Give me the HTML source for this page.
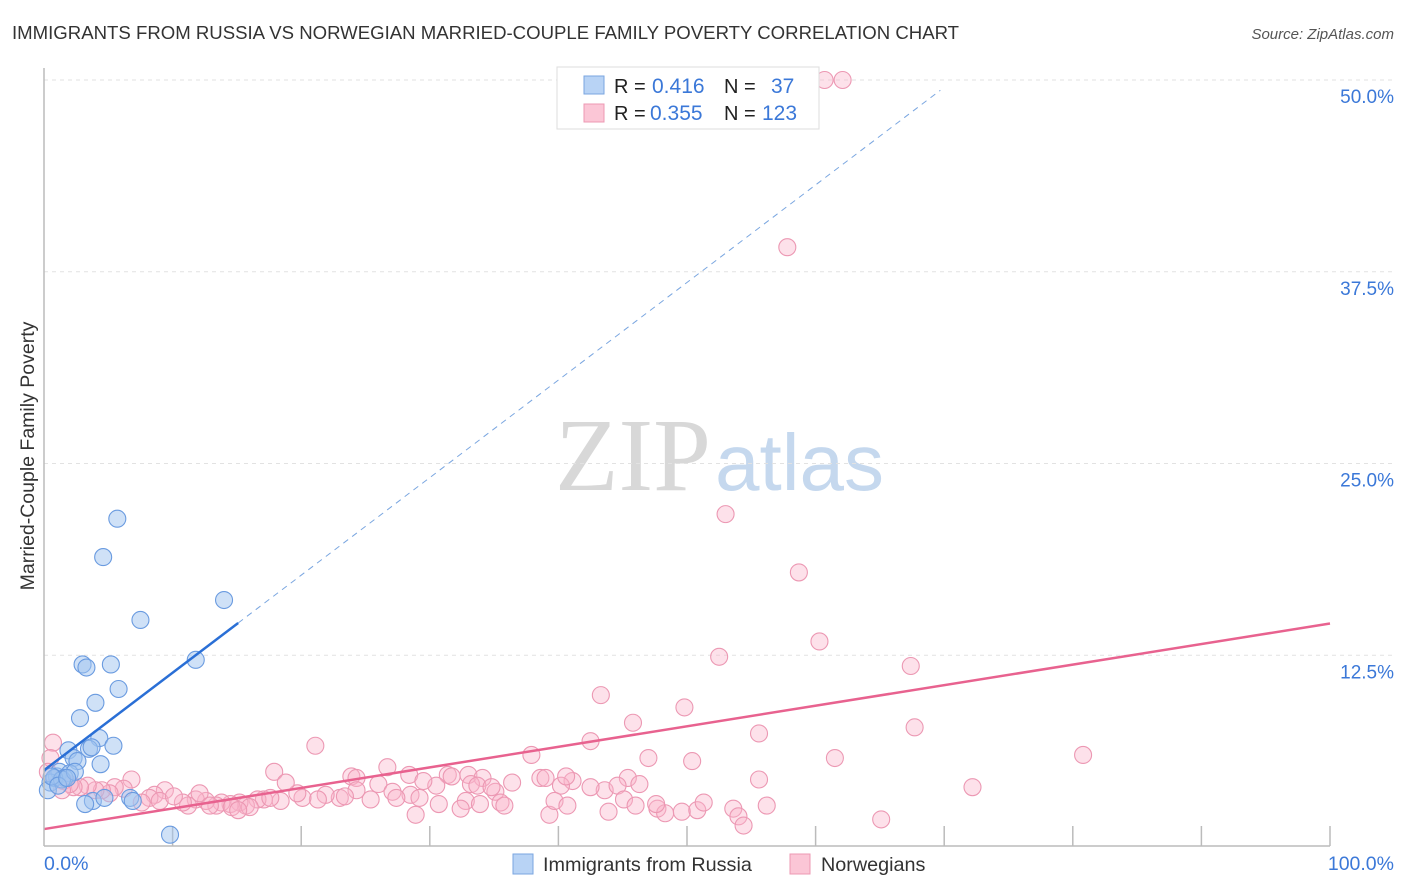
<!DOCTYPE html>
<html><head><meta charset="utf-8"><style>
body{margin:0;background:#fff;font-family:"Liberation Sans",sans-serif;}
#wrap{position:relative;width:1406px;height:892px;overflow:hidden;}
</style></head><body>
<div id="wrap">
<svg id="svg" width="1406" height="892" xmlns="http://www.w3.org/2000/svg">
<text x="12" y="39" font-size="18.6" fill="#333">IMMIGRANTS FROM RUSSIA VS NORWEGIAN MARRIED-COUPLE FAMILY POVERTY CORRELATION CHART</text>
<text x="1394" y="39" font-size="15" fill="#555" text-anchor="end" font-style="italic">Source: ZipAtlas.com</text>
<text x="34" y="456" font-size="19.5" fill="#333" text-anchor="middle" transform="rotate(-90 34 456)">Married-Couple Family Poverty</text>
<text x="555" y="490" font-size="104" fill="#d8d8d8" font-family="Liberation Serif,serif">ZIP<tspan fill="#c5d8ee" font-family="Liberation Sans,sans-serif" font-size="80" dx="4">atlas</tspan></text>
<g id="grid"></g><g id="pts"></g><g id="lines"></g>
<line x1="44" y1="68" x2="44" y2="846" stroke="#bbb" stroke-width="1.5"/>
<line x1="44" y1="846" x2="1330" y2="846" stroke="#bbb" stroke-width="1.5"/>
<text x="44" y="870" font-size="19.5" fill="#3b78d8">0.0%</text>
<text x="1394" y="870" font-size="19.5" fill="#3b78d8" text-anchor="end">100.0%</text>
<g>
<rect x="557" y="67" width="262" height="62" fill="#fff" stroke="#ddd"/>
<rect x="584" y="76" width="20" height="18" fill="#b8d3f5" stroke="#7aa6e0"/>
<rect x="584" y="104" width="20" height="18" fill="#fbc6d6" stroke="#ec98b3"/>
<text font-size="20" fill="#222"><tspan x="614" y="93">R =</tspan><tspan x="614" y="120">R =</tspan><tspan x="724" y="93">N =</tspan><tspan x="724" y="120">N =</tspan></text>
<text font-size="21" fill="#3b78d8"><tspan x="652" y="93">0.416</tspan><tspan x="650" y="120">0.355</tspan><tspan x="771" y="93">37</tspan><tspan x="762" y="120">123</tspan></text>
</g>
<g>
<rect x="513" y="854" width="20" height="20" fill="#b8d3f5" stroke="#7aa6e0"/>
<text x="543" y="871" font-size="19.8" fill="#333">Immigrants from Russia</text>
<rect x="790" y="854" width="20" height="20" fill="#fbc6d6" stroke="#ec98b3"/>
<text x="821" y="871" font-size="19.8" fill="#333">Norwegians</text>
</g>
</svg>
<script>
const yTicks=[12.5,25,37.5,50];
const yTickLabels=["12.5%","25.0%","37.5%","50.0%"];
const xTicks=[10,20,30,40,50,60,70,80,90,100];
const russiaX=[5.7,4.6,14.0,7.5,11.8,3.0,3.3,5.2,5.8,4.0,2.8,4.3,5.4,3.5,3.7,1.9,4.4,2.3,2.6,1.0,1.2,2.0,1.6,0.5,0.8,0.3,1.4,3.8,4.7,3.2,6.7,6.9,9.8,2.4,0.6,1.1,1.8];
const russiaY=[21.4,18.9,16.1,14.8,12.2,11.9,11.7,11.9,10.3,9.4,8.4,7.1,6.6,6.4,6.5,6.3,5.4,5.8,5.6,4.6,4.9,4.8,4.5,4.2,4.5,3.7,4.4,3.0,3.2,2.8,3.2,3.0,0.8,4.9,4.6,4.0,4.5];
const norX=[60.7,62.1,57.8,53.0,58.7,60.3,52.5,67.4,43.3,49.8,45.8,67.7,80.8,55.6,42.5,47.0,50.4,61.5,37.9,21.1,17.9,26.7,28.4,23.9,24.3,31.4,31.7,33.0,34.1,36.4,38.6,39.0,41.1,45.4,46.3,43.6,42.5,44.6,45.1,40.2,33.2,33.7,35.1,34.8,30.5,29.5,28.5,29.2,30.7,32.8,33.9,35.5,35.8,26.0,25.4,27.1,27.4,24.3,23.0,23.4,21.9,21.3,20.1,19.7,18.8,18.4,17.1,16.6,15.7,15.2,16.0,17.6,14.5,13.8,13.4,12.6,11.8,11.2,10.8,9.4,8.6,8.2,6.8,6.2,5.5,5.1,4.5,4.0,3.4,2.8,2.3,2.0,1.5,0.7,0.5,0.3,1.4,7.6,9.0,10.1,12.1,12.9,14.6,15.1,28.9,32.4,39.3,39.7,40.7,43.9,47.7,48.3,49.6,50.8,51.3,53.6,54.0,54.4,55.6,56.2,65.1,72.2,47.6,40.6,46.0];
const norY=[50.0,50.0,39.1,21.7,17.9,13.4,12.4,11.8,9.9,9.1,8.1,7.8,6.0,7.4,6.9,5.8,5.6,5.8,6.0,6.6,4.9,5.2,4.7,4.6,4.5,4.7,4.6,4.7,4.5,4.2,4.5,4.5,4.3,4.5,4.1,3.7,3.9,4.0,3.1,4.0,4.1,4.0,3.6,3.9,4.0,4.3,3.4,3.2,2.8,3.0,2.8,2.9,2.7,4.1,3.1,3.6,3.2,3.7,3.2,3.3,3.4,3.1,3.2,3.5,4.2,3.0,3.1,3.1,2.7,2.9,2.6,3.2,2.8,2.9,2.7,3.0,3.1,2.7,2.9,3.7,3.4,3.2,4.4,3.8,3.9,3.5,3.7,3.7,4.0,3.9,3.9,4.1,4.3,6.8,5.8,4.9,3.7,2.9,3.0,3.3,3.5,2.7,2.6,2.4,2.1,2.5,2.1,3.0,2.7,2.3,2.5,2.2,2.3,2.4,2.9,2.5,2.0,1.4,4.4,2.7,1.8,3.9,2.8,4.6,2.7];
const russiaTrend=[0,15.1,69.7];
const russiaTrendA=5.0, russiaTrendB=0.636;
const norTrendA=1.17, norTrendB=0.134;

const X=v=>44+v*12.86, Y=v=>847-v*15.34;
const NS="http://www.w3.org/2000/svg";
function mk(tag,attrs,parent){const e=document.createElementNS(NS,tag);for(const k in attrs)e.setAttribute(k,attrs[k]);parent.appendChild(e);return e;}
const grid=document.getElementById('grid'),pts=document.getElementById('pts'),lines=document.getElementById('lines'),svg=document.getElementById('svg');
yTicks.forEach((t,i)=>{
  const l=mk('line',{x1:44,x2:1394,y1:Y(t),y2:Y(t),stroke:'#e2e2e2','stroke-dasharray':'4,4'},grid);
  
  
  const tx=mk('text',{x:1394,y:Y(t)+23,'font-size':19,fill:'#3b78d8','text-anchor':'end'},svg);
  tx.textContent=yTickLabels[i];
  
  
});
xTicks.forEach(t=>{
  const l=mk('line',{x1:X(t),x2:X(t),y1:826,y2:846,stroke:'#bbb','stroke-width':1.5},grid);
  
  
});
norX.forEach((x,i)=>{
  const c=mk('circle',{cx:X(x),cy:Y(norY[i]),r:8.5,fill:'rgba(249,180,202,0.4)',stroke:'#ec98b3','stroke-width':1.1},pts);
  
  
});
russiaX.forEach((x,i)=>{
  const c=mk('circle',{cx:X(x),cy:Y(russiaY[i]),r:8.5,fill:'rgba(160,195,240,0.5)',stroke:'#6a9be0','stroke-width':1.1},pts);
  
  
});
const rf=v=>russiaTrendA+russiaTrendB*v;
let l1=mk('line',{x1:X(russiaTrend[0]),y1:Y(rf(russiaTrend[0])),x2:X(russiaTrend[1]),y2:Y(rf(russiaTrend[1])),stroke:'#2a6fd6','stroke-width':2.5},lines);


let l2=mk('line',{x1:X(russiaTrend[1]),y1:Y(rf(russiaTrend[1])),x2:X(russiaTrend[2]),y2:Y(rf(russiaTrend[2])),stroke:'#7aa6e0','stroke-width':1,'stroke-dasharray':'6,5'},lines);


let l3=mk('line',{x1:X(0),y1:Y(norTrendA),x2:X(100),y2:Y(norTrendA+norTrendB*100),stroke:'#e8628f','stroke-width':2.5},lines);


</script>
</div>
</body></html>
